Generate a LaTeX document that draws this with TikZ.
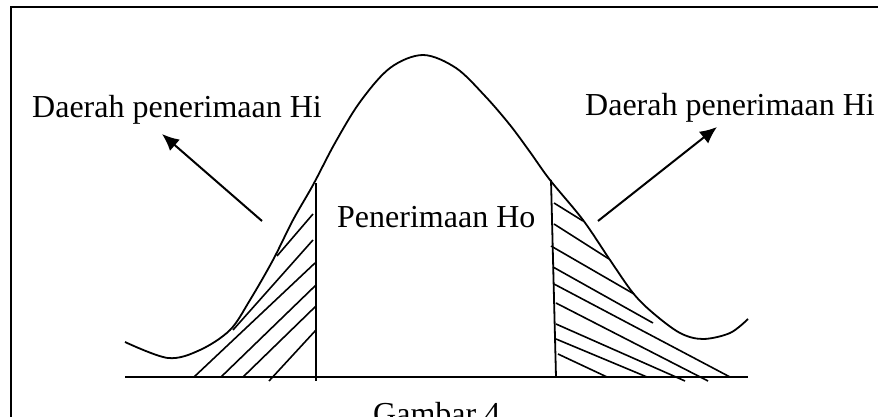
\documentclass[tikz,border=0pt]{standalone}
\usepackage{fontspec}
\setmainfont{Liberation Serif}
\usetikzlibrary{arrows.meta}

\begin{document}
\begin{tikzpicture}[x=1pt,y=-1pt,
    lbl/.style={font=\fontsize{32}{36}\selectfont, inner sep=0pt, anchor=base west},
    hatch/.style={line width=1.6pt},
    pointer/.style={line width=2pt, -{Latex[length=17pt,width=15pt]}}]
                    \useasboundingbox (0,0) rectangle (878,417);
                    % frame
                    \draw[line width=2pt] (11,430) -- (11,7) -- (890,7);
                    % axis and bell curve
                    \draw[line width=2.4pt] (125,377) -- (748,377);
                    \draw[line width=1.8pt] plot[smooth, tension=0.55] coordinates {(125,342) (168,358) (200,350) (230,330) (250,300) (273,260) (293,220) (313,185) (335,143) (360,102) (390,68) (423,55) (456,68) (485,96) (510,125) (530,152) (550,180) (583,220) (610,260) (633,293) (653,313) (680,333) (703,339) (730,333) (748,319)};
                    % boundaries
                    \draw[line width=1.8pt] (316,183) -- (316,381);
                    \draw[line width=1.8pt] (551,180) -- (556,377);
                    % left hatching
                    \draw[hatch] (277,256) -- (313,214);
                    \draw[hatch] (233,330) -- (313,240);
                    \draw[hatch] (194,377) -- (315,263);
                    \draw[hatch] (221,377) -- (316,285);
                    \draw[hatch] (243,377) -- (316,306);
                    \draw[hatch] (269,381) -- (316,330);
                    % right hatching
                    \draw[hatch] (554,203) -- (583,221);
                    \draw[hatch] (554,224) -- (609,259);
                    \draw[hatch] (551,246) -- (634,294);
                    \draw[hatch] (553,267) -- (653,323);
                    \draw[hatch] (554,284) -- (730,377);
                    \draw[hatch] (556,303) -- (708,381);
                    \draw[hatch] (556,324) -- (685,381);
                    \draw[hatch] (556,339) -- (647,377);
                    \draw[hatch] (558,354) -- (607,377);
                    % labels
                    \node[lbl] (leftlbl) at (32,118) {Daerah penerimaan Hi};
                    \node[lbl] (rightlbl) at (585,116) {Daerah penerimaan Hi};
                    \node[lbl] (midlbl) at (337,227) {Penerimaan Ho};
                    \node[lbl] (caption) at (373,424) {Gambar 4};
                    % arrows
                    \coordinate (lefttail) at (262,221);
                    \coordinate (lefttip) at (162,134);
                    \coordinate (righttail) at (598,221);
                    \coordinate (righttip) at (717,127);
                    \draw[pointer] (lefttail) -- (lefttip);
                    \draw[pointer] (righttail) -- (righttip);
                \end{tikzpicture}
\end{document}
